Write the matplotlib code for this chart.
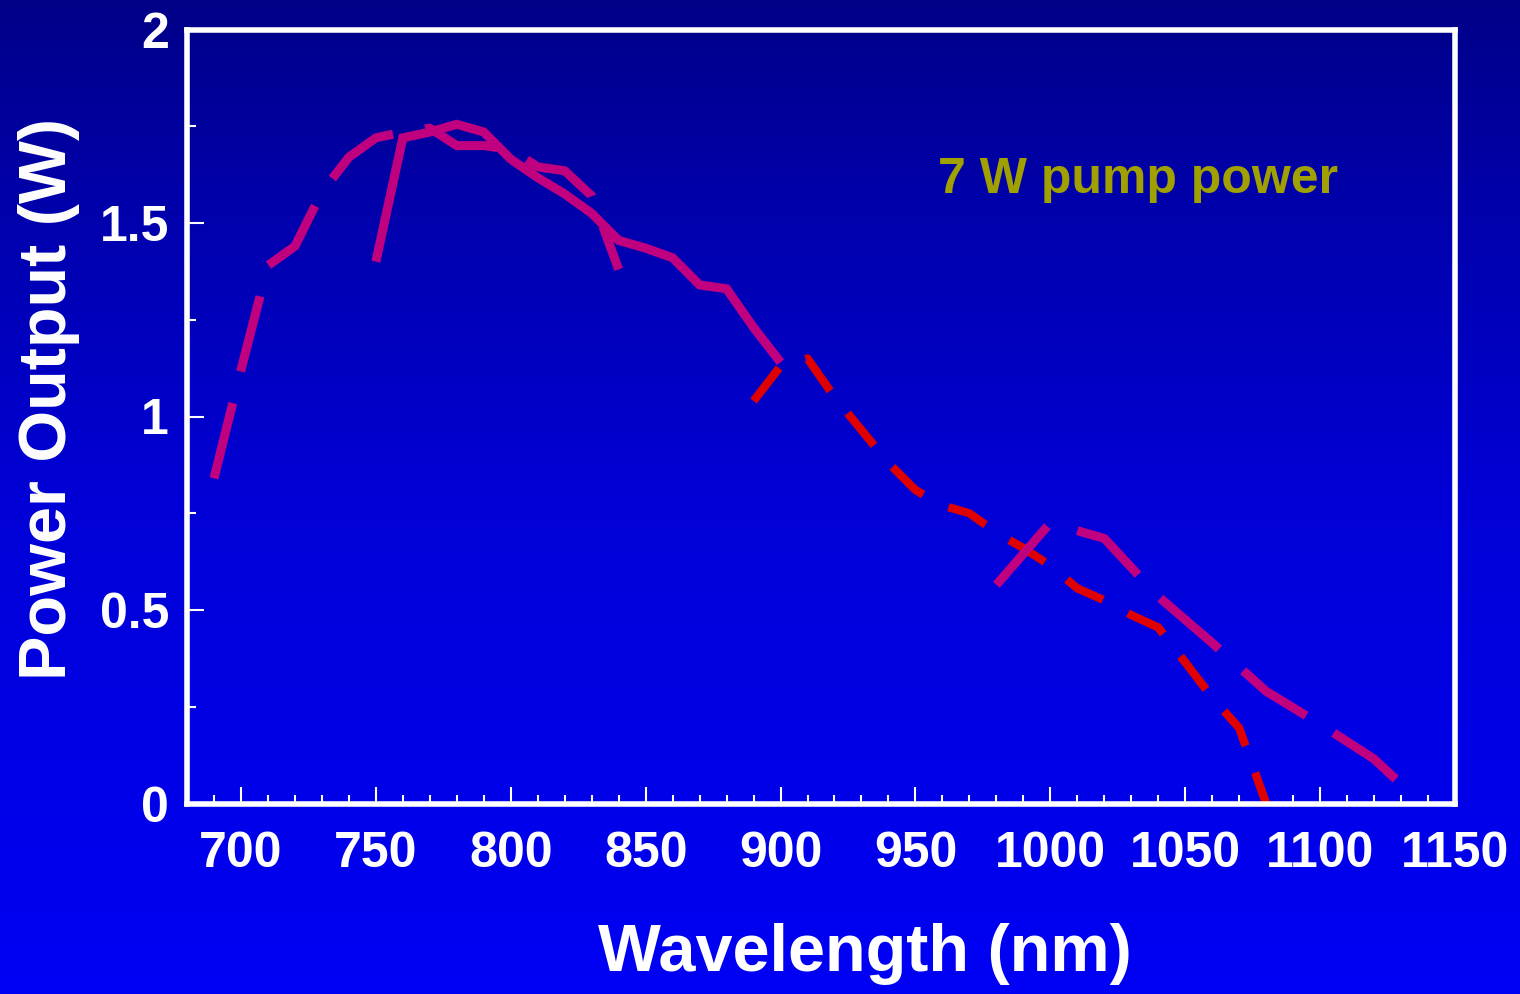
import numpy as np
import matplotlib
matplotlib.use("Agg")
import matplotlib.pyplot as plt
from matplotlib.colors import LinearSegmentedColormap
from matplotlib.ticker import MultipleLocator, FormatStrFormatter

plt.rcParams['font.family'] = ['Liberation Sans', 'DejaVu Sans']
plt.rcParams['font.weight'] = 'bold'

# dashed magenta curve (left)
wl_a = [690, 700, 710, 720, 730, 740, 750, 760, 770, 780, 790, 800, 810, 820, 830, 840]
pw_a = [0.84, 1.12, 1.39, 1.44, 1.58, 1.67, 1.72, 1.735, 1.745, 1.70, 1.70, 1.69, 1.645, 1.635, 1.57, 1.38]

# solid magenta curve
wl_b = [750, 760, 770, 780, 790, 800, 810, 820, 830, 840, 850, 860, 870, 880, 890, 900]
pw_b = [1.40, 1.72, 1.735, 1.755, 1.735, 1.665, 1.617, 1.575, 1.525, 1.455, 1.435, 1.41, 1.34, 1.33, 1.23, 1.14]

# dashed red curve
wl_c = [890, 900, 910, 920, 930, 940, 950, 960, 970, 980, 990, 1000, 1010, 1020, 1030, 1040, 1050, 1060, 1070, 1080]
pw_c = [1.04, 1.13, 1.15, 1.05, 0.965, 0.88, 0.81, 0.77, 0.75, 0.70, 0.66, 0.615, 0.556, 0.525, 0.487, 0.455, 0.365, 0.274, 0.195, 0.0]

# dashed magenta curve (right)
wl_d = [980, 1000, 1020, 1040, 1060, 1080, 1100, 1120, 1130]
pw_d = [0.565, 0.725, 0.685, 0.535, 0.415, 0.29, 0.205, 0.115, 0.05]

magenta = '#C0007F'
red = '#E00000'

fig = plt.figure(figsize=(15.2, 9.94), dpi=100)

# background gradient
bg = fig.add_axes([0, 0, 1, 1], zorder=-10)
cmap = LinearSegmentedColormap.from_list('bg', [(0, '#000088'), (0.2, '#0000AA'),
                                               (0.5, '#0000D6'), (1, '#0000F5')])
grad = np.linspace(0, 1, 256).reshape(-1, 1)
bg.imshow(grad, aspect='auto', cmap=cmap, extent=[0, 1, 1, 0])
bg.axis('off')

ax = fig.add_axes([187 / 1520, 190.5 / 994, (1455 - 187) / 1520, (803.5 - 29.5) / 994])
ax.set_facecolor('none')

ax.plot(wl_c, pw_c, color=red, lw=6, dashes=(5.0, 3.4), dash_capstyle='butt',
        solid_joinstyle='miter')
ax.plot(wl_b, pw_b, color=magenta, lw=6.5, solid_capstyle='butt', solid_joinstyle='miter')
ax.plot(wl_a, pw_a, color=magenta, lw=6.5, dashes=(8.6, 3.6), dash_capstyle='butt')
ax.plot(wl_d, pw_d, color=magenta, lw=6.5, dashes=(8.6, 3.6), dash_capstyle='butt')

ax.set_xlim(680, 1150)
ax.set_ylim(0, 2)
ax.xaxis.set_major_locator(MultipleLocator(50))
ax.xaxis.set_minor_locator(MultipleLocator(10))
ax.yaxis.set_major_locator(MultipleLocator(0.5))
ax.yaxis.set_minor_locator(MultipleLocator(0.25))
ax.yaxis.set_major_formatter(FormatStrFormatter('%g'))

for s in ax.spines.values():
    s.set_color('white')
    s.set_linewidth(4)

ax.tick_params(which='both', direction='in', color='white', width=1.5,
               top=False, right=False, labelcolor='white', labelsize=36)
ax.tick_params(which='major', length=12.5)
ax.tick_params(which='minor', length=6.5)
ax.tick_params(axis='x', pad=20)
ax.tick_params(axis='y', pad=13)

fig.text(865 / 1520, 0.040, 'Wavelength (nm)', color='white', fontsize=48,
         fontweight='bold', ha='center', va='center')
fig.text(49 / 1520, (994 - 399) / 994, 'Power Output (W)', color='white', fontsize=48,
         fontweight='bold', ha='center', va='center', rotation=90)
fig.text(938 / 1520, (994 - 193) / 994, '7 W pump power', color='#A0A000', fontsize=36,
         fontweight='bold', ha='left', va='baseline')

fig.savefig('out.png', dpi=100)
